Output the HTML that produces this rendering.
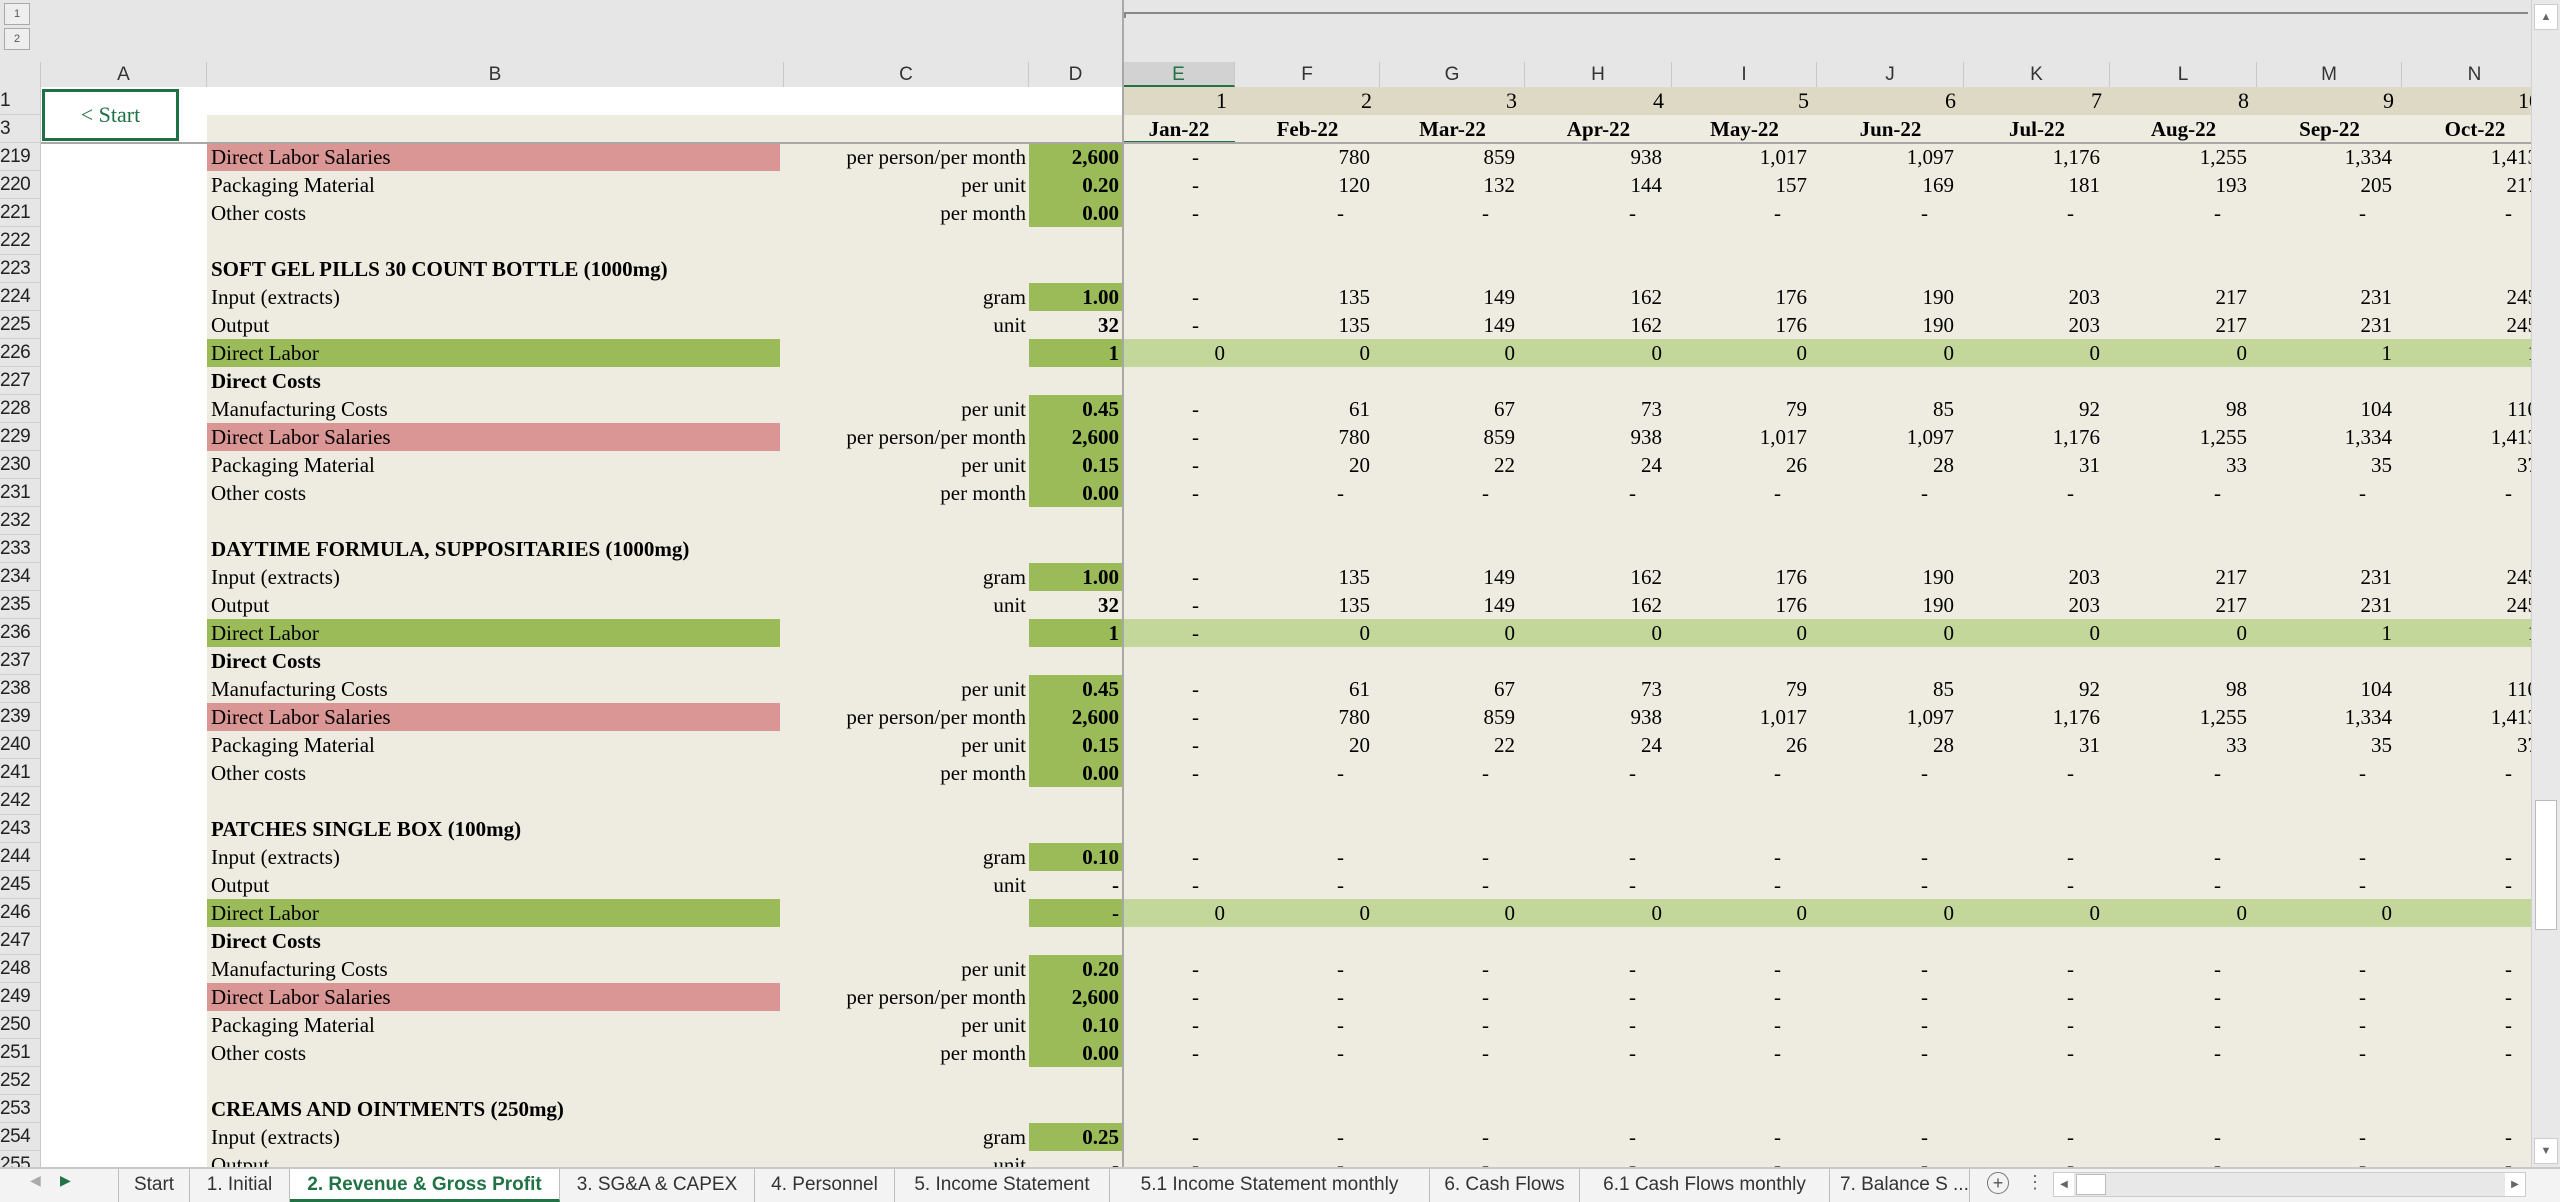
<!DOCTYPE html>
<html><head><meta charset="utf-8">
<style>
*{margin:0;padding:0;box-sizing:border-box}
body{width:2560px;height:1202px;overflow:hidden;background:#e6e6e6;position:relative;font-family:"Liberation Serif",serif}
.abs{position:absolute}
.cell{position:absolute;height:28px;line-height:28px;font-size:21px;white-space:nowrap;overflow:hidden;color:#000}
.rn{position:absolute;left:0;width:41px;height:28px;line-height:28px;font-family:"Liberation Sans",sans-serif;font-size:19px;color:#222;text-align:left;padding-left:0px;background:#e6e6e6;border-bottom:1px solid #d0d0d0;letter-spacing:-0.5px}
.ch{position:absolute;top:62px;height:25px;line-height:25px;font-family:"Liberation Sans",sans-serif;font-size:19px;color:#333;text-align:center;border-right:1px solid #c8c8c8}
.tab{position:absolute;top:1169px;height:33px;line-height:31px;font-family:"Liberation Sans",sans-serif;font-size:19px;color:#333;padding:0 10px;border-right:1px solid #bdbdbd;white-space:nowrap}
</style></head>
<body>
<div class="abs" style="left:4px;top:3px;width:26px;height:22px;border:1px solid #aaa;background:#eee;font:11px 'Liberation Sans',sans-serif;text-align:center;line-height:20px;color:#555">1</div>
<div class="abs" style="left:4px;top:28px;width:26px;height:22px;border:1px solid #aaa;background:#eee;font:11px 'Liberation Sans',sans-serif;text-align:center;line-height:20px;color:#555">2</div>
<div class="abs" style="left:1124px;top:12px;width:1404px;height:6px;border-top:2px solid #888;border-left:2px solid #888"></div>
<div class="abs" style="left:1122px;top:0;width:2px;height:62px;background:#aaa"></div>

<div id="grid" class="abs" style="left:0;top:62px;width:2531px;height:1107px;overflow:hidden;background:#e6e6e6"></div>

<div class="abs" style="left:2531px;top:0;width:29px;height:1169px;background:#e8e8e8;border-left:1px solid #d0d0d0">
  <div class="abs" style="left:2px;top:4px;width:24px;height:26px;background:#fff;border:1px solid #ccc;font-size:11px;text-align:center;line-height:24px;color:#666">▲</div>
  <div class="abs" style="left:3px;top:800px;width:22px;height:130px;background:#fff;border:1px solid #bbb"></div>
  <div class="abs" style="left:2px;top:1138px;width:24px;height:26px;background:#fff;border:1px solid #ccc;font-size:11px;text-align:center;line-height:24px;color:#666">▼</div>
</div>

<div class="abs" style="left:0;top:1167px;width:2560px;height:35px;background:#f3f3f3;border-top:2px solid #c8c8c8"></div>
<div class="abs" style="left:30px;top:1172px;font-size:14px;color:#aaa;font-family:'Liberation Sans',sans-serif">◀</div>
<div class="abs" style="left:60px;top:1172px;font-size:14px;color:#217346;font-family:'Liberation Sans',sans-serif">▶</div>
<div id="tabs"></div>
<div class="abs" style="left:1987px;top:1172px;width:22px;height:22px;border:1px solid #777;border-radius:50%;text-align:center;line-height:19px;font:18px 'Liberation Sans',sans-serif;color:#555">+</div>
<div class="abs" style="left:2026px;top:1172px;font:18px 'Liberation Sans',sans-serif;color:#666">⋮</div>
<div class="abs" style="left:2053px;top:1172px;width:473px;height:25px;background:#e8e8e8;border:1px solid #ccc">
  <div class="abs" style="left:0;top:0;width:20px;height:23px;background:#fff;font-size:10px;text-align:center;line-height:23px;color:#666">◀</div>
  <div class="abs" style="left:22px;top:1px;width:30px;height:21px;background:#fff;border:1px solid #bbb"></div>
  <div class="abs" style="right:0;top:0;width:20px;height:23px;background:#fff;font-size:10px;text-align:center;line-height:23px;color:#666">▶</div>
</div>

<script>
const colEdges=[0,41,207,784,1029,1123,1235,1380,1525,1672,1817,1964,2110,2257,2402,2548];
const colLetters=["A","B","C","D","E","F","G","H","I","J","K","L","M","N"];
const periodNumbers=["1","2","3","4","5","6","7","8","9","10"];
const monthLabels=["Jan-22","Feb-22","Mar-22","Apr-22","May-22","Jun-22","Jul-22","Aug-22","Sep-22","Oct-22"];
const inputSeries=["-","135","149","162","176","190","203","217","231","245"];
const salarySeries=["-","780","859","938","1,017","1,097","1,176","1,255","1,334","1,413"];
const pack20Series=["-","120","132","144","157","169","181","193","205","217"];
const mfgSeries=["-","61","67","73","79","85","92","98","104","110"];
const pack15Series=["-","20","22","24","26","28","31","33","35","37"];
const dashSeries=["-","-","-","-","-","-","-","-","-","-"];
const laborSeriesA=["0","0","0","0","0","0","0","0","1","1"];
const laborSeriesB=["-","0","0","0","0","0","0","0","1","1"];
const laborSeriesC=["0","0","0","0","0","0","0","0","0",""];
const rows=[
 [219,"Direct Labor Salaries","pink","per person/per month","2,600",1,salarySeries],
 [220,"Packaging Material","","per unit","0.20",1,pack20Series],
 [221,"Other costs","","per month","0.00",1,dashSeries],
 [222],
 [223,"SOFT GEL PILLS 30 COUNT BOTTLE (1000mg)","bold"],
 [224,"Input (extracts)","","gram","1.00",1,inputSeries],
 [225,"Output","","unit","32",0,inputSeries],
 [226,"Direct Labor","labor","","1",1,laborSeriesA],
 [227,"Direct Costs","bold"],
 [228,"Manufacturing Costs","","per unit","0.45",1,mfgSeries],
 [229,"Direct Labor Salaries","pink","per person/per month","2,600",1,salarySeries],
 [230,"Packaging Material","","per unit","0.15",1,pack15Series],
 [231,"Other costs","","per month","0.00",1,dashSeries],
 [232],
 [233,"DAYTIME FORMULA, SUPPOSITARIES (1000mg)","bold"],
 [234,"Input (extracts)","","gram","1.00",1,inputSeries],
 [235,"Output","","unit","32",0,inputSeries],
 [236,"Direct Labor","labor","","1",1,laborSeriesB],
 [237,"Direct Costs","bold"],
 [238,"Manufacturing Costs","","per unit","0.45",1,mfgSeries],
 [239,"Direct Labor Salaries","pink","per person/per month","2,600",1,salarySeries],
 [240,"Packaging Material","","per unit","0.15",1,pack15Series],
 [241,"Other costs","","per month","0.00",1,dashSeries],
 [242],
 [243,"PATCHES SINGLE BOX (100mg)","bold"],
 [244,"Input (extracts)","","gram","0.10",1,dashSeries],
 [245,"Output","","unit","-",0,dashSeries],
 [246,"Direct Labor","labor","","-",1,laborSeriesC],
 [247,"Direct Costs","bold"],
 [248,"Manufacturing Costs","","per unit","0.20",1,dashSeries],
 [249,"Direct Labor Salaries","pink","per person/per month","2,600",1,dashSeries],
 [250,"Packaging Material","","per unit","0.10",1,dashSeries],
 [251,"Other costs","","per month","0.00",1,dashSeries],
 [252],
 [253,"CREAMS AND OINTMENTS (250mg)","bold"],
 [254,"Input (extracts)","","gram","0.25",1,dashSeries],
 [255,"Output","","unit","-",0,dashSeries]
];
const g=document.getElementById('grid');
function mk(cls,style,text,name,inter){
  const d=document.createElement('div');
  d.className=cls; d.style.cssText=style; if(text!==undefined)d.textContent=text;
  
  
  g.appendChild(d); return d;
}
mk('abs','left:0;top:0;width:41px;height:25px;background:#e6e6e6;border-right:1px solid #c8c8c8','', 'select-all-corner',true);
for(let i=0;i<colLetters.length;i++){
  const l=colEdges[i+1],r=colEdges[i+2];
  const s=mk('ch','left:'+l+'px;top:0;width:'+(r-l)+'px;'+(i===4?'background:#d2d2d2;color:#217346;border-bottom:2px solid #217346;':''),colLetters[i],'column-header-'+colLetters[i].toLowerCase(),true);
  s.style.top='0px';
}
const top0=25;
mk('rn','top:'+top0+'px','1','row-number-1',true);
mk('rn','top:'+(top0+28)+'px','3','row-number-3',true);
mk('abs','left:41px;top:'+top0+'px;width:166px;height:56px;background:#fff','','column-a-header-area',false);
mk('abs','left:207px;top:'+top0+'px;width:916px;height:28px;background:#fff','','title-row-blank',false);
mk('abs','left:207px;top:'+(top0+28)+'px;width:916px;height:28px;background:#eeece1','','header-row-blank',false);
mk('abs','left:42px;top:'+(top0+2)+'px;width:137px;height:52px;border:3px solid #1e7145;background:#fff;color:#1e7145;font-size:22px;text-align:center;line-height:46px;font-family:"Liberation Serif",serif','< Start','start-link-button',true);
for(let k=0;k<10;k++){
  const l=colEdges[k+5],r=colEdges[k+6];
  mk('cell','left:'+l+'px;top:'+top0+'px;width:'+(r-l)+'px;background:#ddd9c4;text-align:right;padding-right:8px;font-size:22px',periodNumbers[k],'period-number-'+(k+1),false);
  mk('cell','left:'+l+'px;top:'+(top0+28)+'px;width:'+(r-l)+'px;background:#eeece1;text-align:center;font-weight:bold;'+(k===0?'border-bottom:2px solid #217346;':''),monthLabels[k],'month-label-'+(k+1),false);
}
let y=top0+56;
rows.forEach(rw=>{
  const n=rw[0];
  mk('rn','top:'+y+'px',String(n),'row-number-'+n,true);
  mk('abs','left:41px;top:'+y+'px;width:166px;height:28px;background:#fff','','column-a-cell',false);
  mk('abs','left:207px;top:'+y+'px;width:2341px;height:28px;background:#eeece1','','row-background-'+n,false);
  if(rw.length>1){
    const kind=rw[2];
    const bg=kind==='pink'?'#da9694':kind==='labor'?'#9bbb59':'transparent';
    const lw=kind==='pink'||kind==='labor'?(784-207-4):577;
    mk('cell','left:207px;top:'+y+'px;width:'+lw+'px;background:'+bg+';padding-left:4px;'+(kind==='bold'?'font-weight:bold;overflow:visible;':''),rw[1],'row-label-'+n,false);
    if(rw.length>3){
      mk('cell','left:784px;top:'+y+'px;width:245px;text-align:right;padding-right:3px',rw[3],'unit-label-'+n,false);
      mk('cell','left:1029px;top:'+y+'px;width:94px;text-align:right;padding-right:4px;font-weight:bold;background:'+(rw[5]?'#9bbb59':'transparent'),rw[4],'assumption-input-'+n,true);
      if(kind==='labor') mk('abs','left:1123px;top:'+y+'px;width:1425px;height:28px;background:#c4d79b','','labor-row-fill-months',false);
      const vals=rw[6];
      for(let k=0;k<10;k++){
        const l=colEdges[k+5],r=colEdges[k+6];
        const v=vals[k];
        const pad=v==='-'?36:10;
        mk('cell','left:'+l+'px;top:'+y+'px;width:'+(r-l)+'px;text-align:right;padding-right:'+pad+'px',v,'value-'+n+'-'+monthLabels[k].toLowerCase(),false);
      }
    }
  }
  y+=28;
});
mk('abs','left:1122px;top:0;width:2px;height:1107px;background:#a8a8a8','','frozen-column-divider',false);
mk('abs','left:41px;top:'+(top0+55)+'px;width:2507px;height:2px;background:#a8a8a8','','frozen-row-divider',false);
mk('abs','left:40px;top:25px;width:1px;height:1082px;background:#c8c8c8','','row-header-border',false);
const tabNames=["Start","1. Initial","2. Revenue & Gross Profit","3. SG&A & CAPEX","4. Personnel","5. Income Statement","5.1 Income Statement monthly","6. Cash Flows","6.1 Cash Flows monthly","7. Balance S ..."];
const tabLefts=[118,190,290,560,755,895,1110,1430,1580,1830];
const tabWidths=[72,100,270,195,140,215,320,150,250,140];
const tb=document.getElementById('tabs');
tabNames.forEach((t,i)=>{
  const d=document.createElement('div');
  d.className='tab';
  d.style.left=tabLefts[i]+'px';
  d.style.width=tabWidths[i]+'px';
  d.style.textAlign='center';
  if(i===2){d.style.background='#fff';d.style.color='#217346';d.style.fontWeight='bold';d.style.borderBottom='3px solid #217346';}
  if(i===0){d.style.borderLeft='1px solid #bdbdbd';}
  d.textContent=t;
  
  
  tb.appendChild(d);
});
</script>
</body></html>
